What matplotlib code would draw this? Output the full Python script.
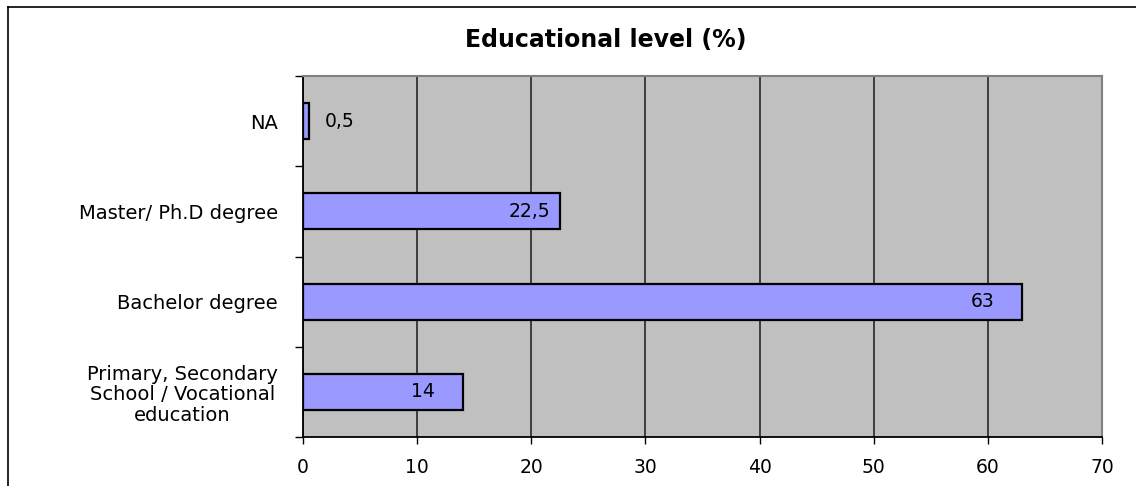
import matplotlib.pyplot as plt
from matplotlib.lines import Line2D

plt.rcParams['font.family'] = ['DejaVu Sans']

categories = ["Primary, Secondary\nSchool / Vocational\neducation",
              "Bachelor degree",
              "Master/ Ph.D degree",
              "NA"]
values = [14, 63, 22.5, 0.5]
value_labels = ["14", "63", "22,5", "0,5"]
x_ticks = [0, 10, 20, 30, 40, 50, 60, 70]

fig = plt.figure(figsize=(11.36, 4.86), dpi=100)
ax = fig.add_axes([0.2667, 0.1008, 0.7033, 0.7428])

ax.set_facecolor("#c0c0c0")
ypos = list(range(len(categories)))
ax.barh(ypos, values, height=0.4, color="#9999ff", edgecolor="black",
        linewidth=1.6, zorder=3)

# value labels near the bar end, outside when the bar is too short
for y, v, lab in zip(ypos, values, value_labels):
    if v < 5:
        ax.annotate(lab, (v, y), xytext=(11.5, 0), textcoords="offset points",
                    ha="left", va="center", fontsize=13.5, zorder=4)
    else:
        ax.annotate(lab, (v, y), xytext=(-37, 0), textcoords="offset points",
                    ha="left", va="center", fontsize=13.5, zorder=4)

ax.set_xlim(0, 70)
ax.set_ylim(-0.5, len(categories) - 0.5)
ax.set_xticks(x_ticks)
ax.set_xticklabels([str(t) for t in x_ticks], fontsize=13.5)
ax.xaxis.grid(True, color="#333333", linewidth=1.3, zorder=1)
ax.set_axisbelow(True)

ax.set_yticks(ypos)
ax.set_yticklabels(categories, fontsize=14, multialignment="center",
                   linespacing=1.1)
ax.set_yticks([p - 0.5 for p in range(len(categories) + 1)], minor=True)
ax.tick_params(axis="y", which="major", length=0, pad=18)
ax.tick_params(axis="y", which="minor", length=6, width=1, color="black")
ax.tick_params(axis="x", length=5, width=1, pad=10)

ax.spines["left"].set_color("black")
ax.spines["bottom"].set_color("black")
ax.spines["left"].set_linewidth(1.3)
ax.spines["bottom"].set_linewidth(1.3)
ax.spines["top"].set_color("#808080")
ax.spines["right"].set_color("#808080")
ax.spines["top"].set_linewidth(1.5)
ax.spines["right"].set_linewidth(1.5)

fig.text(0.533, 0.918, "Educational level (%)", ha="center", va="center",
         fontsize=17, fontweight="bold")

# chart frame (left and top edges)
fig.add_artist(Line2D([8 / 1136, 8 / 1136], [0, 1 - 7 / 486],
                      transform=fig.transFigure, color="black", linewidth=1.2))
fig.add_artist(Line2D([8 / 1136, 1], [1 - 7 / 486, 1 - 7 / 486],
                      transform=fig.transFigure, color="black", linewidth=1.2))

fig.savefig("out.png", dpi=100)
